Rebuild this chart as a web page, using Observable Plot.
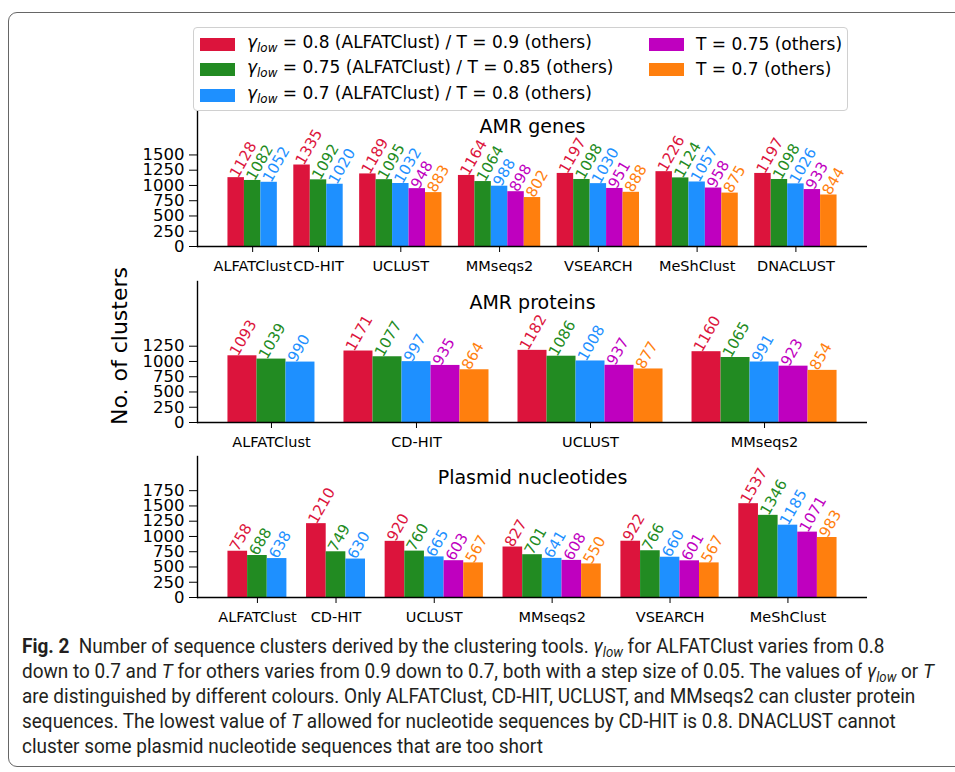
<!DOCTYPE html>
<html><head><meta charset="utf-8">
<script src="https://cdn.jsdelivr.net/npm/d3@7"></script>
<script src="https://cdn.jsdelivr.net/npm/@observablehq/plot@0.6"></script>
<style>
body{margin:0;background:#fff;overflow:hidden;}
#root{position:relative;width:955px;height:772px;overflow:hidden;font-family:"DejaVu Sans",sans-serif;color:#000;}
#frame{position:absolute;left:8px;top:12px;width:1000px;height:755px;border:1.3px solid #666;border-radius:9px;box-sizing:border-box;}
.panel{position:absolute;left:0;}
.panel svg{overflow:visible;}
#legend{position:absolute;left:193px;top:27px;width:655px;height:84px;box-sizing:border-box;border:1px solid #d0d0d0;border-radius:4px;background:#fff;z-index:5;font-size:17px;}
.lg{position:absolute;display:flex;align-items:center;white-space:nowrap;}
.sw{width:35px;height:13px;margin-right:12px;}
.lg sub{font-size:0.7em;vertical-align:-0.35em;}
#caption{position:absolute;left:22px;top:634px;font-family:Roboto,"Liberation Sans",sans-serif;color:#231f20;transform-origin:0 0;}
#caption .ln{white-space:nowrap;height:25px;line-height:25px;}
#caption sub{font-size:0.7em;vertical-align:-0.3em;line-height:0;}
</style></head>
<body><div id="root"><div id="frame"></div>
<div id="p1" class="panel"></div><div id="p2" class="panel"></div><div id="p3" class="panel"></div>
<div id="legend"></div>
<div id="caption"></div>
</div>
<script>
// ---- data ----
const seriesLabels = [
  "<i>γ</i><sub><i>low</i></sub> = 0.8 (ALFATClust) / T = 0.9 (others)",
  "<i>γ</i><sub><i>low</i></sub> = 0.75 (ALFATClust) / T = 0.85 (others)",
  "<i>γ</i><sub><i>low</i></sub> = 0.7 (ALFATClust) / T = 0.8 (others)",
  "T = 0.75 (others)",
  "T = 0.7 (others)"
];
const seriesColors = ["#DC143C", "#228B22", "#1E90FF", "#BF00BF", "#FF7F0E"];

const genesTools = ["ALFATClust", "CD-HIT", "UCLUST", "MMseqs2", "VSEARCH", "MeShClust", "DNACLUST"];
const genesS0 = [1128, 1335, 1189, 1164, 1197, 1226, 1197];
const genesS1 = [1082, 1092, 1095, 1064, 1098, 1124, 1098];
const genesS2 = [1052, 1020, 1032, 988, 1030, 1057, 1026];
const genesS3 = [null, null, 948, 898, 951, 958, 933];
const genesS4 = [null, null, 883, 802, 888, 875, 844];
const genesTicks = [0, 250, 500, 750, 1000, 1250, 1500];

const protTools = ["ALFATClust", "CD-HIT", "UCLUST", "MMseqs2"];
const protS0 = [1093, 1171, 1182, 1160];
const protS1 = [1039, 1077, 1086, 1065];
const protS2 = [990, 997, 1008, 991];
const protS3 = [null, 935, 937, 923];
const protS4 = [null, 864, 877, 854];
const protTicks = [0, 250, 500, 750, 1000, 1250];

const plasTools = ["ALFATClust", "CD-HIT", "UCLUST", "MMseqs2", "VSEARCH", "MeShClust"];
const plasS0 = [758, 1210, 920, 827, 922, 1537];
const plasS1 = [688, 749, 760, 701, 766, 1346];
const plasS2 = [638, 630, 665, 641, 660, 1185];
const plasS3 = [null, null, 603, 608, 601, 1071];
const plasS4 = [null, null, 567, 550, 567, 983];
const plasTicks = [0, 250, 500, 750, 1000, 1250, 1500, 1750];

const yMax = 2310;

const captionLines = [
  "<b>Fig. 2</b>&nbsp; Number of sequence clusters derived by the clustering tools. <i>γ<sub>low</sub></i> for ALFATClust varies from 0.8",
  "down to 0.7 and <i>T</i> for others varies from 0.9 down to 0.7, both with a step size of 0.05. The values of <i>γ<sub>low</sub></i> or <i>T</i>",
  "are distinguished by different colours. Only ALFATClust, CD-HIT, UCLUST, and MMseqs2 can cluster protein",
  "sequences. The lowest value of <i>T</i> allowed for nucleotide sequences by CD-HIT is 0.8. DNACLUST cannot",
  "cluster some plasmid nucleotide sequences that are too short"
];

// ---- chart ----
function panel(el, top, title, tools, vals, ticks, extra) {
  const rows = [], domain = [], mids = [];
  tools.forEach((t, i) => {
    const present = [];
    vals.forEach((arr, j) => {
      if (arr[i] != null) { present.push(j); rows.push({tool: t, s: j, key: t + "|" + j, value: arr[i]}); }
    });
    present.forEach(j => domain.push(t + "|" + j));
    mids.push(t + "|" + present[Math.floor(present.length / 2)]);
    if (i < tools.length - 1) domain.push(t + "|gap");
  });
  const W = 955, ML = 197, MR = 88, MT = 8, MB = 40, FH = 141;
  const n = domain.length;
  const bw = (W - ML - MR) / (n * 1.1);
  const marks = [
    Plot.barY(rows, {x: "key", y: "value", fill: "s", inset: 0}),
    Plot.text(rows, {x: "key", y: "value", text: d => String(d.value), fill: "s", rotate: -60,
      textAnchor: "start", lineAnchor: "bottom", dx: -bw / 2 + 10, dy: 1, fontSize: 15}),
    Plot.axisY({ticks, tickFormat: d => String(d), tickSize: 8, tickPadding: 5, fontSize: 16.5, label: null}),
    Plot.axisX({ticks: mids, tickFormat: k => k.split("|")[0], tickSize: 6, tickPadding: 8, fontSize: 14.5, label: null}),
    Plot.ruleY([0], {stroke: "#000", strokeWidth: 1.4}),
    Plot.frame({anchor: "left", stroke: "#000", strokeWidth: 1.4}),
    Plot.text([title], {frameAnchor: "top", dy: 21, lineAnchor: "middle", fontSize: 19})
  ];
  if (extra) marks.push(extra);
  const chart = Plot.plot({
    width: W, height: FH + MT + MB, marginLeft: ML, marginRight: MR, marginTop: MT, marginBottom: MB,
    style: {fontFamily: "DejaVu Sans", color: "#000", background: "transparent", overflow: "visible"},
    x: {type: "band", domain, paddingInner: 0, paddingOuter: 0.05 * n, align: 0.5, round: false},
    y: {domain: [0, yMax]},
    color: {type: "ordinal", domain: [0, 1, 2, 3, 4], range: seriesColors},
    marks
  });
  const div = document.getElementById(el);
  div.style.top = (top - MT) + "px";
  div.appendChild(chart);
}

panel("p1", 105, "AMR genes", genesTools, [genesS0, genesS1, genesS2, genesS3, genesS4], genesTicks);
panel("p2", 281, "AMR proteins", protTools, [protS0, protS1, protS2, protS3, protS4], protTicks,
  Plot.text(["No. of clusters"], {frameAnchor: "left", textAnchor: "middle", lineAnchor: "middle", dx: -78, dy: -6, rotate: -90, fontSize: 22}));
panel("p3", 456, "Plasmid nucleotides", plasTools, [plasS0, plasS1, plasS2, plasS3, plasS4], plasTicks);

// ---- legend ----
const lg = document.getElementById("legend");
const pos = [[6, 16], [6, 41], [6, 67], [455, 16], [455, 41]];
seriesLabels.forEach((lab, i) => {
  const d = document.createElement("div");
  d.className = "lg";
  d.style.left = pos[i][0] + "px";
  d.style.top = (pos[i][1] - 12) + "px";
  d.style.height = "24px";
  d.innerHTML = `<span class="sw" style="background:${seriesColors[i]}"></span><span>${lab}</span>`;
  lg.appendChild(d);
});

// ---- caption ----
const cap = document.getElementById("caption");
captionLines.forEach(l => {
  const d = document.createElement("div");
  d.className = "ln";
  d.innerHTML = `<span>${l}</span>`;
  cap.appendChild(d);
});
cap.style.fontSize = "20.5px";
let wmax = 0;
for (const c of cap.children) wmax = Math.max(wmax, c.firstChild.getBoundingClientRect().width);
cap.style.transform = `scaleX(${(912 / wmax).toFixed(4)})`;
</script>
</body></html>
